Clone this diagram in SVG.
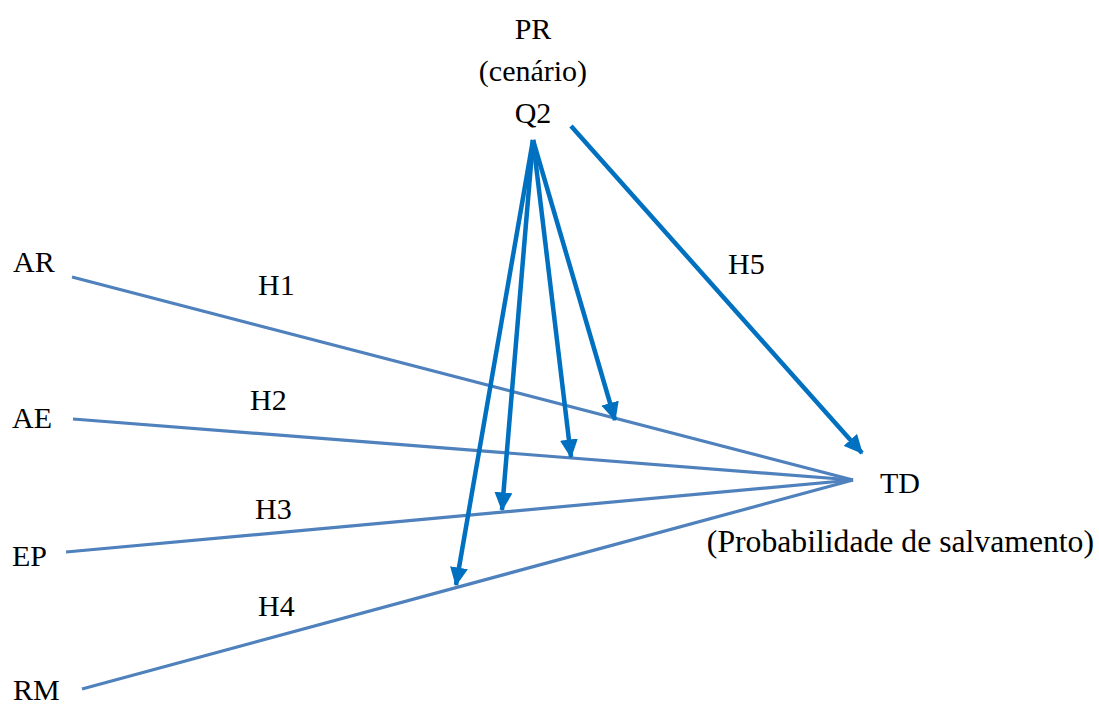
<svg xmlns="http://www.w3.org/2000/svg" width="1099" height="704" viewBox="0 0 1099 704">
<style>
text{font-family:"Liberation Serif","Times New Roman","DejaVu Serif",serif;font-size:30px;fill:#000}
.l{stroke:#4F81BD;stroke-width:3.2;fill:none}
.a{stroke:#0070C0;stroke-width:4.5;fill:none}
</style>
<defs>
<marker id="ah" markerWidth="4.2" markerHeight="4" refX="3.9" refY="2" orient="auto" markerUnits="strokeWidth">
<path d="M0,0 L4.2,2 L0,4 Z" fill="#0070C0"/>
</marker>
</defs>
<g id="connectors">
<line class="l" x1="72" y1="277" x2="853" y2="480"/>
<line class="l" x1="73" y1="419" x2="853" y2="480"/>
<line class="l" x1="66" y1="552" x2="853" y2="480"/>
<line class="l" x1="82" y1="689" x2="853" y2="480"/>
<line class="a" x1="533" y1="140" x2="615" y2="420" marker-end="url(#ah)"/>
<line class="a" x1="533" y1="140" x2="571" y2="457" marker-end="url(#ah)"/>
<line class="a" x1="533" y1="140" x2="502" y2="510" marker-end="url(#ah)"/>
<line class="a" x1="533" y1="140" x2="456" y2="585" marker-end="url(#ah)"/>
<line class="a" x1="571" y1="126" x2="862" y2="453" marker-end="url(#ah)"/>
</g>
<g id="node-PR"><text x="533" y="39" text-anchor="middle">PR</text><text x="533" y="81" text-anchor="middle">(cenário)</text><text x="533" y="123" text-anchor="middle">Q2</text></g>
<g id="node-AR"><text x="13" y="272">AR</text></g>
<g id="node-AE"><text x="12" y="428">AE</text></g>
<g id="node-EP"><text x="12" y="566">EP</text></g>
<g id="node-RM"><text x="13" y="700">RM</text></g>
<g id="node-TD"><text x="880" y="493">TD</text><text x="1094" y="552" text-anchor="end" style="font-size:31.7px">(Probabilidade de salvamento)</text></g>
<g id="labels">
<text x="258" y="295">H1</text>
<text x="250" y="410">H2</text>
<text x="255" y="519">H3</text>
<text x="258" y="616">H4</text>
<text x="728" y="274">H5</text>
</g>
</svg>
